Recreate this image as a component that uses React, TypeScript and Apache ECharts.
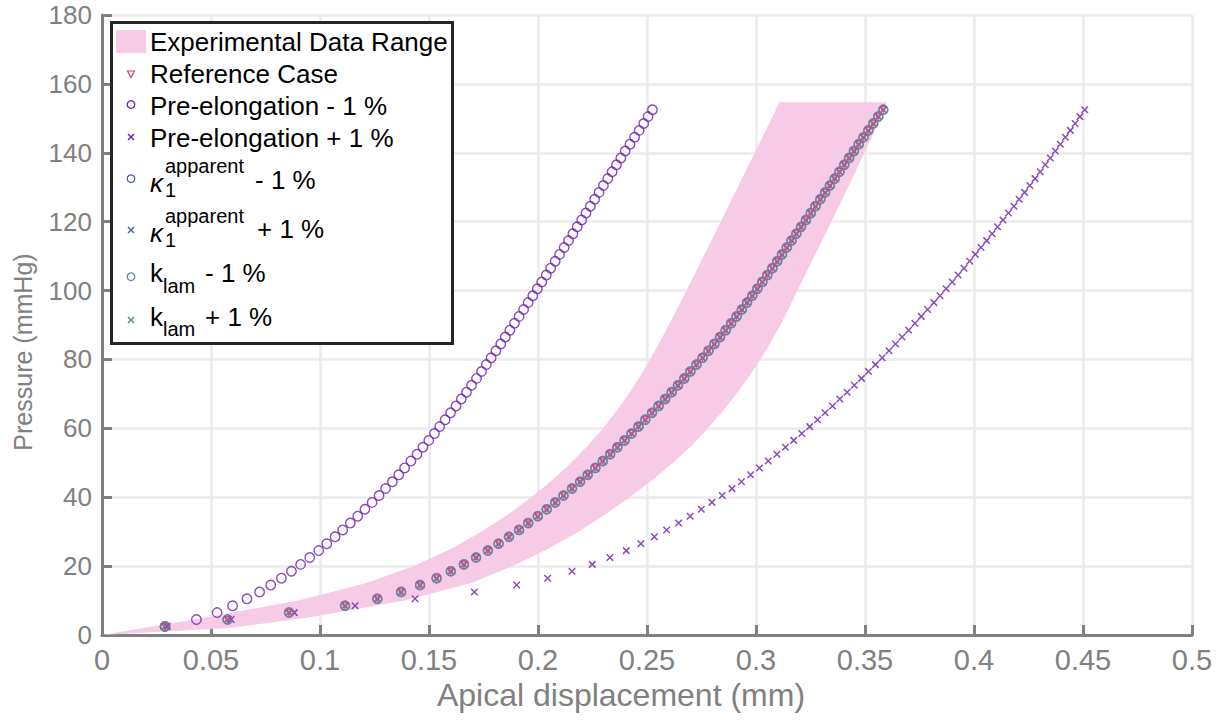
import React, { useEffect, useRef } from "react";
import * as echarts from "echarts";

// Applied pressure (mmHg) shared by all simulated cases
const pressure = [
  2.5, 4.5, 6.5, 8.5, 10.5, 12.5, 14.5, 16.5, 18.5, 20.5,
  22.5, 24.5, 26.5, 28.5, 30.5, 32.5, 34.5, 36.5, 38.5, 40.5,
  42.5, 44.5, 46.5, 48.5, 50.5, 52.5, 54.5, 56.5, 58.5, 60.5,
  62.5, 64.5, 66.5, 68.5, 70.5, 72.5, 74.5, 76.5, 78.5, 80.5,
  82.5, 84.5, 86.5, 88.5, 90.5, 92.5, 94.5, 96.5, 98.5, 100.5,
  102.5, 104.5, 106.5, 108.5, 110.5, 112.5, 114.5, 116.5, 118.5, 120.5,
  122.5, 124.5, 126.5, 128.5, 130.5, 132.5, 134.5, 136.5, 138.5, 140.5,
  142.5, 144.5, 146.5, 148.5, 150.5, 152.5,
];

// Apical displacement (mm), reference case
const referenceX = [
  0.0289, 0.0576, 0.0858, 0.1115, 0.1263, 0.1372, 0.1459, 0.1535, 0.16, 0.166,
  0.1716, 0.177, 0.1819, 0.1867, 0.1913, 0.1955, 0.1999, 0.204, 0.2079, 0.2117,
  0.2156, 0.2193, 0.2228, 0.2263, 0.2297, 0.2331, 0.2364, 0.2397, 0.2429, 0.2461,
  0.2492, 0.2523, 0.2553, 0.2583, 0.2613, 0.2642, 0.2671, 0.2699, 0.2727, 0.2755,
  0.2782, 0.2809, 0.2835, 0.2861, 0.2886, 0.2911, 0.2935, 0.2959, 0.2983, 0.3006,
  0.3029, 0.3052, 0.3075, 0.3097, 0.3119, 0.3141, 0.3163, 0.3185, 0.3207, 0.3229,
  0.3251, 0.3273, 0.3295, 0.3317, 0.3339, 0.3361, 0.3383, 0.3405, 0.3427, 0.3449,
  0.3471, 0.3493, 0.3515, 0.3538, 0.3561, 0.3584,
];

// Pre-elongation - 1 %
const preMinusX = [
  0.0289, 0.0433, 0.0528, 0.0599, 0.0665, 0.0723, 0.0774, 0.0823, 0.0869, 0.0911,
  0.0953, 0.0994, 0.1031, 0.1069, 0.1104, 0.1139, 0.1173, 0.1206, 0.1239, 0.1271,
  0.1301, 0.1332, 0.1361, 0.1388, 0.1417, 0.1445, 0.1472, 0.1499, 0.1525, 0.1549,
  0.1574, 0.1599, 0.1624, 0.1648, 0.1672, 0.1695, 0.1718, 0.1741, 0.1763, 0.1785,
  0.1807, 0.1829, 0.185, 0.1871, 0.1892, 0.1913, 0.1934, 0.1955, 0.1976, 0.1997,
  0.2017, 0.2038, 0.2058, 0.2079, 0.2099, 0.212, 0.214, 0.216, 0.218, 0.22,
  0.222, 0.224, 0.226, 0.228, 0.23, 0.232, 0.234, 0.236, 0.238, 0.24,
  0.2422, 0.2443, 0.2464, 0.2485, 0.2505, 0.2525,
];

// Pre-elongation + 1 %
const prePlusX = [
  0.03, 0.0592, 0.0882, 0.1161, 0.1436, 0.1708, 0.1902, 0.2044, 0.2156, 0.2249,
  0.233, 0.2405, 0.2472, 0.2534, 0.259, 0.2645, 0.2698, 0.2749, 0.2798, 0.2845,
  0.289, 0.2933, 0.2975, 0.3016, 0.3056, 0.3096, 0.3135, 0.3173, 0.321, 0.3246,
  0.3282, 0.3317, 0.3351, 0.3384, 0.3418, 0.3451, 0.3484, 0.3516, 0.3548, 0.3579,
  0.361, 0.364, 0.367, 0.37, 0.3729, 0.3758, 0.3787, 0.3816, 0.3844, 0.3872,
  0.39, 0.3927, 0.3954, 0.398, 0.4006, 0.4032, 0.4058, 0.4083, 0.4108, 0.4133,
  0.4158, 0.4183, 0.4207, 0.4232, 0.4256, 0.428, 0.4304, 0.4327, 0.435, 0.4373,
  0.4396, 0.4419, 0.4442, 0.4464, 0.4486, 0.4508,
];

// kappa_1^apparent and k_lam variations coincide with the reference case in the figure
const kappaMinusX = referenceX;
const kappaPlusX = referenceX;
const klamMinusX = referenceX;
const klamPlusX = referenceX;

// Experimental data range (pressure levels with left/right displacement bounds)
const bandP = [0, 2, 5, 10, 15, 20, 25, 30, 35, 40, 45, 50, 55, 60, 65, 70, 75, 80, 85, 90, 95, 100, 105, 110, 115, 120, 125, 130, 135, 140, 145, 150, 154.7];
const bandUpperX = [0, 0.019, 0.047, 0.09, 0.121, 0.143, 0.16, 0.174, 0.1862, 0.197, 0.2066, 0.2152, 0.2229, 0.2298, 0.236, 0.2416, 0.2467, 0.2514, 0.2558, 0.26, 0.2641, 0.2681, 0.2721, 0.276, 0.2799, 0.2838, 0.2877, 0.2916, 0.2955, 0.2994, 0.3033, 0.3072, 0.3108];
const bandLowerX = [0, 0.058, 0.094, 0.139, 0.169, 0.1885, 0.2045, 0.2185, 0.2308, 0.242, 0.2525, 0.262, 0.2705, 0.278, 0.2848, 0.291, 0.2967, 0.302, 0.3068, 0.3112, 0.3152, 0.319, 0.3229, 0.3268, 0.3307, 0.3346, 0.3384, 0.3422, 0.346, 0.3497, 0.3534, 0.3567, 0.36];

const FONT = '"Liberation Sans", Helvetica, Arial, sans-serif';
const GRAY = "#808080";
const PINK = "#F7CBE6";
const PURPLE = "#6E1EAF";
const KAPPA = "#4D62A0";
const KLAM = "#5F8C9C";
const REF = "#E63377";
const XPATH = "path://M0,0L10,10M10,0L0,10";

function pts(xs: number[]) {
  return pressure.map((p, i) => [xs[i], p]);
}

export default function App() {
  const ref = useRef<HTMLDivElement>(null);
  useEffect(() => {
    document.body.style.margin = "0";
    const chart = echarts.init(ref.current!, null, { renderer: "svg" });
    const txt = (text: string, x: number, y: number, size = 26, extra: any = {}) => ({
      type: "text",
      z: 101,
      style: { text, x, y, fill: "#000", font: `${extra.italic ? "italic " : ""}${size}px ${FONT}`, verticalAlign: "middle", align: "left" },
    });
    const xMark = (cx: number, cy: number, color: string) => [
      { type: "line", z: 101, shape: { x1: cx - 3, y1: cy - 3, x2: cx + 3, y2: cy + 3 }, style: { stroke: color, lineWidth: 1.4 } },
      { type: "line", z: 101, shape: { x1: cx + 3, y1: cy - 3, x2: cx - 3, y2: cy + 3 }, style: { stroke: color, lineWidth: 1.4 } },
    ];
    const circ = (cx: number, cy: number, color: string) => ({
      type: "circle", z: 101, shape: { cx, cy, r: 3.8 }, style: { fill: "none", stroke: color, lineWidth: 1.3 },
    });
    const legend: any[] = [
      { type: "rect", z: 100, shape: { x: 111.5, y: 22.5, width: 341, height: 321 }, style: { fill: "#fff", stroke: "#262626", lineWidth: 3 } },
      { type: "rect", z: 101, shape: { x: 116, y: 30, width: 30, height: 23 }, style: { fill: PINK } },
      txt("Experimental Data Range", 150, 42),
      { type: "polygon", z: 101, shape: { points: [[127.5, 71], [134.5, 71], [131, 77.5]] }, style: { fill: "none", stroke: REF, lineWidth: 1.2 } },
      txt("Reference Case", 150, 74),
      circ(131, 104.5, PURPLE),
      txt("Pre-elongation - 1 %", 150, 105.5),
      ...xMark(131, 137, PURPLE),
      txt("Pre-elongation + 1 %", 150, 137.5),
      circ(131, 178.7, KAPPA),
      txt("κ", 150, 183, 26, { italic: true }),
      txt("1", 165, 190, 20),
      txt("apparent", 165, 166, 20),
      txt("- 1 %", 255, 180),
      ...xMark(131, 230, KAPPA),
      txt("κ", 150, 233, 26, { italic: true }),
      txt("1", 165, 240, 20),
      txt("apparent", 165, 216, 20),
      txt("+ 1 %", 257, 229),
      circ(131, 276.7, KLAM),
      txt("k", 150, 273),
      txt("lam", 163, 286, 20),
      txt("- 1 %", 205, 273),
      ...xMark(131, 320, KLAM),
      txt("k", 150, 317),
      txt("lam", 163, 329, 20),
      txt("+ 1 %", 205, 317),
    ];

    const scatter = (name: string, xs: number[], symbol: string, size: number, color: string, z: number, rotate = 0, bw = 1.4) => ({
      type: "scatter",
      name,
      data: pts(xs),
      symbol,
      symbolSize: size,
      symbolRotate: rotate,
      itemStyle: { color: "rgba(0,0,0,0)", borderColor: color, borderWidth: bw },
      z,
      silent: true,
    });

    const fmt = (v: number) => String(+v.toFixed(2));
    const option: any = {
      animation: false,
      backgroundColor: "#fff",
      textStyle: { fontFamily: FONT },
      grid: { left: 102, right: 34, top: 15, bottom: 85 },
      xAxis: {
        type: "value",
        min: 0,
        max: 0.5,
        interval: 0.05,
        name: "Apical displacement (mm)",
        nameLocation: "middle",
        nameGap: 44,
        nameTextStyle: { color: GRAY, fontSize: 32, fontFamily: FONT, padding: [0, 52, 0, 0] },
        axisLine: { show: true, onZero: false, lineStyle: { color: GRAY, width: 3 } },
        axisTick: { show: true, inside: true, length: 10, lineStyle: { color: GRAY, width: 3 } },
        axisLabel: { color: GRAY, fontSize: 29, fontFamily: FONT, margin: 10, formatter: fmt },
        splitLine: { show: true, lineStyle: { color: "#EBEBEB", width: 2.5 } },
      },
      yAxis: {
        type: "value",
        min: 0,
        max: 180,
        interval: 20,
        name: "Pressure (mmHg)",
        nameLocation: "middle",
        nameGap: 67,
        nameTextStyle: { color: GRAY, fontSize: 25, fontFamily: FONT, padding: [0, 54, 0, 0] },
        axisLine: { show: true, onZero: false, lineStyle: { color: GRAY, width: 3 } },
        axisTick: { show: true, inside: true, length: 10, lineStyle: { color: GRAY, width: 3 } },
        axisLabel: { color: GRAY, fontSize: 26, fontFamily: FONT, margin: 10 },
        splitLine: { show: true, lineStyle: { color: "#EBEBEB", width: 2.5 } },
      },
      series: [
        {
          type: "custom",
          name: "Experimental Data Range",
          coordinateSystem: "cartesian2d",
          data: [[0, 0]],
          silent: true,
          z: 1,
          renderItem: (_params: any, api: any) => {
            const poly: number[][] = [];
            for (let i = 0; i < bandP.length; i++) poly.push(api.coord([bandUpperX[i], bandP[i]]));
            for (let i = bandP.length - 1; i >= 0; i--) poly.push(api.coord([bandLowerX[i], bandP[i]]));
            return { type: "polygon", shape: { points: poly }, style: { fill: PINK } };
          },
        },
        scatter("Pre-elongation - 1 %", preMinusX, "circle", 9.5, PURPLE, 3),
        scatter("Pre-elongation + 1 %", prePlusX, XPATH, 6.5, PURPLE, 3, 0, 1.5),
        scatter("κ1 apparent - 1 %", kappaMinusX, "circle", 9, KAPPA, 4),
        scatter("κ1 apparent + 1 %", kappaPlusX, XPATH, 6, KAPPA, 4),
        scatter("klam - 1 %", klamMinusX, "circle", 9, KLAM, 5, 0, 1.6),
        scatter("klam + 1 %", klamPlusX, XPATH, 6, KLAM, 5),
        scatter("Reference Case", referenceX, "triangle", 6, REF, 6, 180, 1.2),
      ],
      graphic: legend,
    };
    chart.setOption(option);
    return () => chart.dispose();
  }, []);
  return <div ref={ref} style={{ width: 1226, height: 720, position: "absolute", left: 0, top: 0 }} />;
}
